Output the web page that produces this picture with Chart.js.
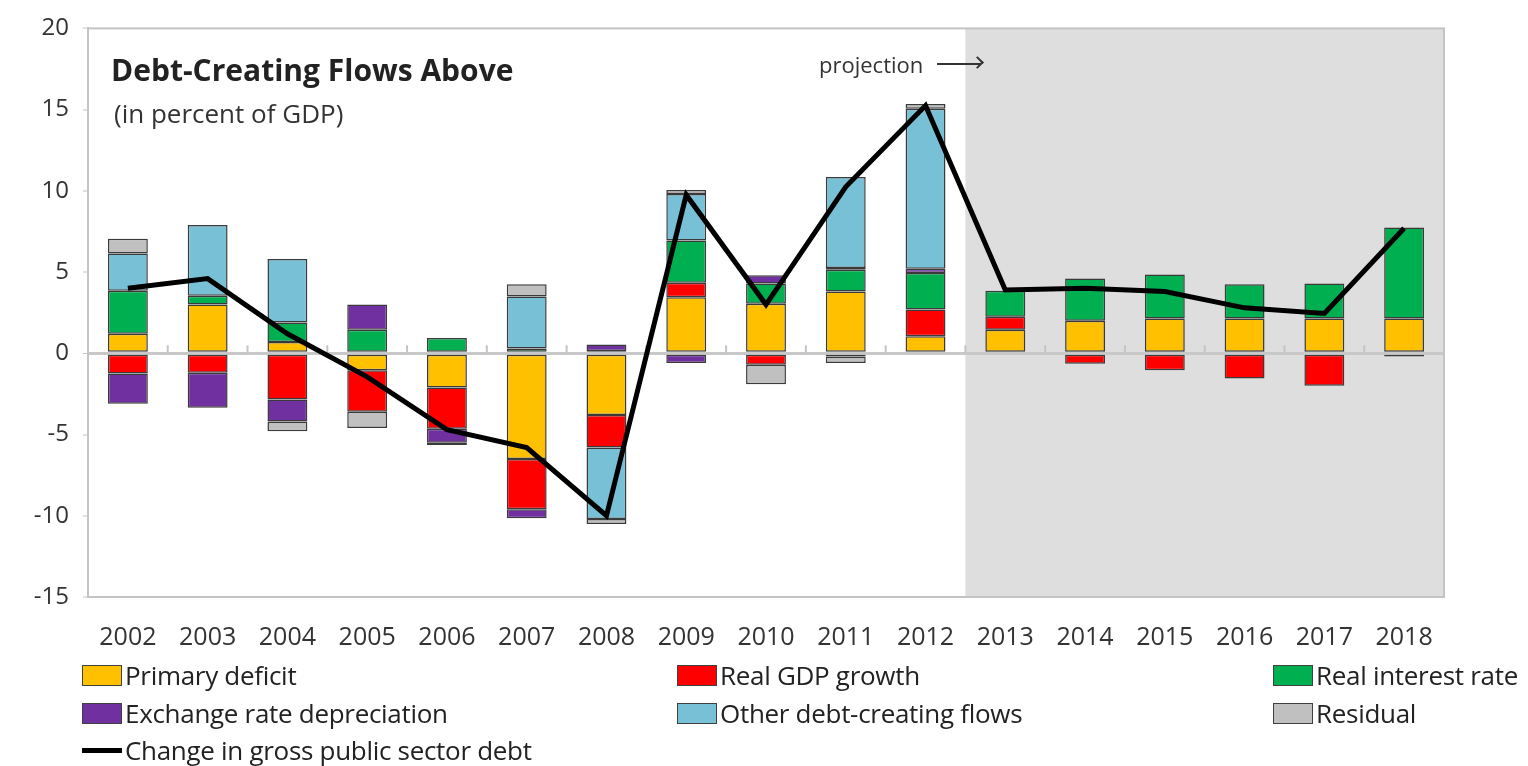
<!DOCTYPE html>
<html>
<head>
<meta charset="utf-8">
<script src="https://cdn.jsdelivr.net/npm/chart.js@4/dist/chart.umd.min.js"></script>
<style>
    body { margin: 0; background: #fff; }
    #wrap { position: relative; width: 1528px; height: 766px; font-family: "Open Sans", sans-serif; color: #222; }
    #myDebtChart { position: absolute; left: 0; top: 0; }
    .note { position: absolute; white-space: nowrap; }
    #chartTitle { left: 111px; top: 53px; font-size: 30px; line-height: 34px; font-weight: bold; }
    #chartSub { left: 114px; top: 97px; font-size: 26px; line-height: 32px; color: #333; }
    #projection { left: 819px; top: 50px; font-size: 22px; line-height: 28px; color: #333; display: flex; align-items: center; }
    .arrow { position: relative; display: inline-block; width: 44px; height: 2px; background: #333; margin-left: 14px; }
    .arrow:after { content: ""; position: absolute; right: -1px; top: -5px; width: 9px; height: 9px; border-top: 2px solid #333; border-right: 2px solid #333; transform: rotate(45deg); transform-origin: center; box-sizing: border-box; }
    #legend { position: absolute; left: 0; top: 0; }
    .legItem { position: absolute; display: flex; align-items: center; font-size: 26px; line-height: 32px; white-space: nowrap; color: #222; letter-spacing: -0.3px; }
    .legBox { width: 40px; height: 21px; border: 1.5px solid #404040; box-sizing: border-box; margin-right: 3px; }
    .legLine { width: 40px; height: 5px; background: #000; margin-right: 3px; }
</style>
</head>
<body>
<div id="wrap">
    <canvas id="myDebtChart" width="1528" height="766"></canvas>
    <div class="note" id="chartTitle">Debt-Creating Flows Above</div>
    <div class="note" id="chartSub">(in percent of GDP)</div>
    <div class="note" id="projection">projection<span class="arrow"></span></div>
    <div id="legend"></div>
</div>
<script>
var yearLabels = ["2002","2003","2004","2005","2006","2007","2008","2009","2010","2011","2012","2013","2014","2015","2016","2017","2018"];

var primaryDeficitData = [1.2, 3.0, 0.7, -1.05, -2.1, -6.5, -3.8, 3.45, 3.05, 3.8, 1.05, 1.45, 2.0, 2.15, 2.15, 2.15, 2.15];
var realGdpGrowthData = [-1.25, -1.2, -2.85, -2.55, -2.55, -3.1, -2.0, 0.9, -0.7, -0.2, 1.65, 0.8, -0.65, -1.05, -1.55, -2.0, 0];
var realInterestRateData = [2.65, 0.55, 1.2, 1.45, 0.95, 0.3, 0.15, 2.6, 1.25, 1.35, 2.25, 1.6, 2.6, 2.7, 2.1, 2.15, 5.6];
var exchangeRateData = [-1.85, -2.15, -1.35, 1.55, -0.85, -0.55, 0.4, -0.6, 0.5, 0.1, 0.25, 0, 0, 0, 0, 0, 0];
var otherFlowsData = [2.3, 4.35, 3.9, 0, 0, 3.2, -4.4, 2.85, 0, 5.6, 9.85, 0, 0, 0, 0, 0, 0];
var residualData = [0.9, 0, -0.6, -1.0, -0.15, 0.75, -0.3, 0.25, -1.2, -0.4, 0.3, 0, 0, 0, 0, 0, -0.2];
var changeInDebtData = [4.0, 4.6, 1.2, -1.45, -4.7, -5.8, -10.0, 9.75, 3.0, 10.25, 15.25, 3.9, 4.0, 3.8, 2.8, 2.45, 7.7];

var yTicks = [-15, -10, -5, 0, 5, 10, 15, 20];
var projectionStart = "2013";

// legend columns, left to right then down
var legendCols = [82, 677, 1273];
var legendRows = [675, 713, 750];

function barSet(label, data, color) {
    return {
        type: "bar",
        label: label,
        data: data,
        backgroundColor: color,
        borderColor: "#3a3a3a",
        borderWidth: 1.5,
        borderSkipped: false,
        stack: "flows",
        order: 1,
        barPercentage: 0.5,
        categoryPercentage: 1.0
    };
}

// grey block behind projection years + frame + small category marks on the zero line
var plotDecor = {
    id: "plotDecor",
    beforeDraw: function(chart) {
        var a = chart.chartArea, x = chart.scales.x, c = chart.ctx;
        var i = yearLabels.indexOf(projectionStart);
        var left = (x.getPixelForValue(i - 1) + x.getPixelForValue(i)) / 2;
        c.save();
        c.fillStyle = "#dedede";
        c.fillRect(left, a.top, a.right - left, a.bottom - a.top);
        c.restore();
    },
    beforeDatasetsDraw: function(chart) {
        var a = chart.chartArea, x = chart.scales.x, y = chart.scales.y, c = chart.ctx;
        var zero = y.getPixelForValue(0);
        c.save();
        c.strokeStyle = "#c4c4c4";
        c.lineWidth = 2;
        c.strokeRect(a.left, a.top, a.right - a.left, a.bottom - a.top);
        for (var i = 1; i < yearLabels.length; i++) {
            var bx = (x.getPixelForValue(i - 1) + x.getPixelForValue(i)) / 2;
            c.beginPath();
            c.moveTo(bx, zero);
            c.lineTo(bx, zero - 8);
            c.stroke();
        }
        c.restore();
    }
};

function createDebtChart(elementId) {
    var ctx = document.getElementById(elementId).getContext("2d");
    return new Chart(ctx, {
        data: {
            labels: yearLabels,
            datasets: [
                {
                    type: "line",
                    label: "Change in gross public sector debt",
                    data: changeInDebtData,
                    borderColor: "#000",
                    borderWidth: 5,
                    borderJoinStyle: "miter",
                    pointRadius: 0,
                    tension: 0,
                    fill: false,
                    stack: "debt",
                    order: 0
                },
                barSet("Primary deficit", primaryDeficitData, "#ffc000"),
                barSet("Real GDP growth", realGdpGrowthData, "#ff0000"),
                barSet("Real interest rate", realInterestRateData, "#00b050"),
                barSet("Exchange rate depreciation", exchangeRateData, "#7030a0"),
                barSet("Other debt-creating flows", otherFlowsData, "#78c0d6"),
                barSet("Residual", residualData, "#c0c0c0")
            ]
        },
        options: {
            responsive: false,
            animation: false,
            devicePixelRatio: 1,
            layout: { padding: { top: 27, right: 84, bottom: 89, left: 0 } },
            plugins: {
                legend: { display: false },
                tooltip: { enabled: false }
            },
            scales: {
                x: {
                    stacked: true,
                    grid: { display: false, drawTicks: false },
                    border: { display: false },
                    ticks: { color: "#333", padding: 26, font: { family: "Open Sans", size: 25 } },
                    afterFit: function(s) { s.height = 80; }
                },
                y: {
                    stacked: true,
                    min: -15,
                    max: 20,
                    afterBuildTicks: function(s) { s.ticks = yTicks.map(function(v) { return { value: v }; }); },
                    border: { display: true, color: "#c4c4c4", width: 2 },
                    grid: {
                        color: "#c8c8c8",
                        lineWidth: function(c) { return c.tick && c.tick.value === 0 ? 3 : 0; },
                        tickColor: "#c4c4c4",
                        tickWidth: 1,
                        tickLength: 5
                    },
                    ticks: { color: "#333", padding: 14, font: { family: "Open Sans", size: 24 } },
                    afterFit: function(s) { s.width = 88; }
                }
            }
        },
        plugins: [plotDecor]
    });
}

function buildLegend(chart) {
    var box = document.getElementById("legend");
    var sets = chart.data.datasets.slice(1).concat([chart.data.datasets[0]]);
    sets.forEach(function(ds, i) {
        var item = document.createElement("div");
        item.className = "legItem";
        item.style.left = legendCols[i % 3] + "px";
        item.style.top = (legendRows[Math.floor(i / 3)] - 16) + "px";
        var mark = document.createElement("span");
        if (ds.type === "line") {
            mark.className = "legLine";
        } else {
            mark.className = "legBox";
            mark.style.background = ds.backgroundColor;
        }
        item.appendChild(mark);
        item.appendChild(document.createTextNode(ds.label));
        box.appendChild(item);
    });
}

var myDebtChart = createDebtChart("myDebtChart");
buildLegend(myDebtChart);
</script>
</body>
</html>
